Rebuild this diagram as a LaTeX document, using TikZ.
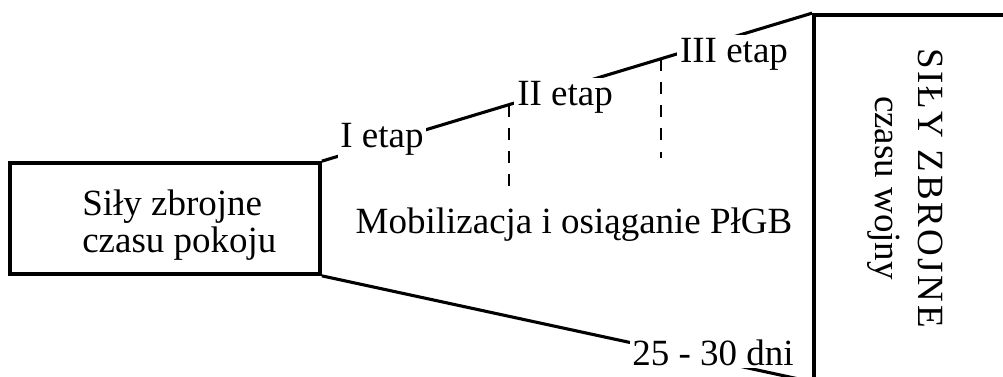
\documentclass[tikz,border=0pt]{standalone}
\usepackage{fontspec}
\setmainfont{Liberation Serif}
\usetikzlibrary{positioning}

\begin{document}
\begin{tikzpicture}[x=0.025cm,y=-0.025cm]
				\tikzset{box/.style = {shape=rectangle,draw,line width=2.6pt,
						inner sep = 0pt}}
				\tikzset{txt/.style = {font=\fontsize{26.3}{30}\selectfont,
						inner sep = 0pt}}
				\tikzset{stagetxt/.style = {txt, fill=white, inner sep = 2pt}}
				\tikzset{edge/.style = {line width=2.2pt}}
				\tikzset{stageline/.style = {line width=1.6pt,
						dash pattern=on 0.3cm off 0.28cm}}
				
				\path[use as bounding box, clip] (0,0) rectangle (1003,376);
				
				% boxes
				\node[box, minimum width=7.75cm, minimum height=2.775cm] (pokoj) at (165,218.5) {};
				\node[box, minimum width=5.4cm, minimum height=9.125cm] (wojna) at (922,197.5) {};
				
				\node[txt, anchor=base west] (pokoj1) at (82,215) {Siły zbrojne};
				\node[txt, anchor=base west] (pokoj2) at (82,252) {czasu pokoju};
				\node[txt, rotate=-90, anchor=base] (wojna1) at (918,188)
					{\addfontfeature{LetterSpace=7}SIŁY ZBROJNE};
				\node[txt, rotate=-90, anchor=base] (wojna2) at (875,188) {czasu wojny};
				\node[txt, anchor=base] (mob) at (574,233) {Mobilizacja i osiąganie PłGB};
				
				%edges
				\draw[edge] (pokoj.north east) -- (wojna.north west)
					coordinate[pos=0.381] (s1) coordinate[pos=0.692] (s2);
				\draw[edge] (pokoj.south east) -- (wojna.south west);
				\draw[stageline] (s1) -- ++(0,82);
				\draw[stageline] (s2) -- ++(0,99);
				
				% stages
				\node[stagetxt, anchor=base] (etap1) at (382,147) {I etap};
				\node[stagetxt, anchor=base] (etap2) at (565,105) {II etap};
				\node[stagetxt, anchor=base] (etap3) at (734,62) {III etap};
				\node[stagetxt, anchor=base] (dni) at (713,365) {25 - 30 dni};
				
\end{tikzpicture}
\end{document}
